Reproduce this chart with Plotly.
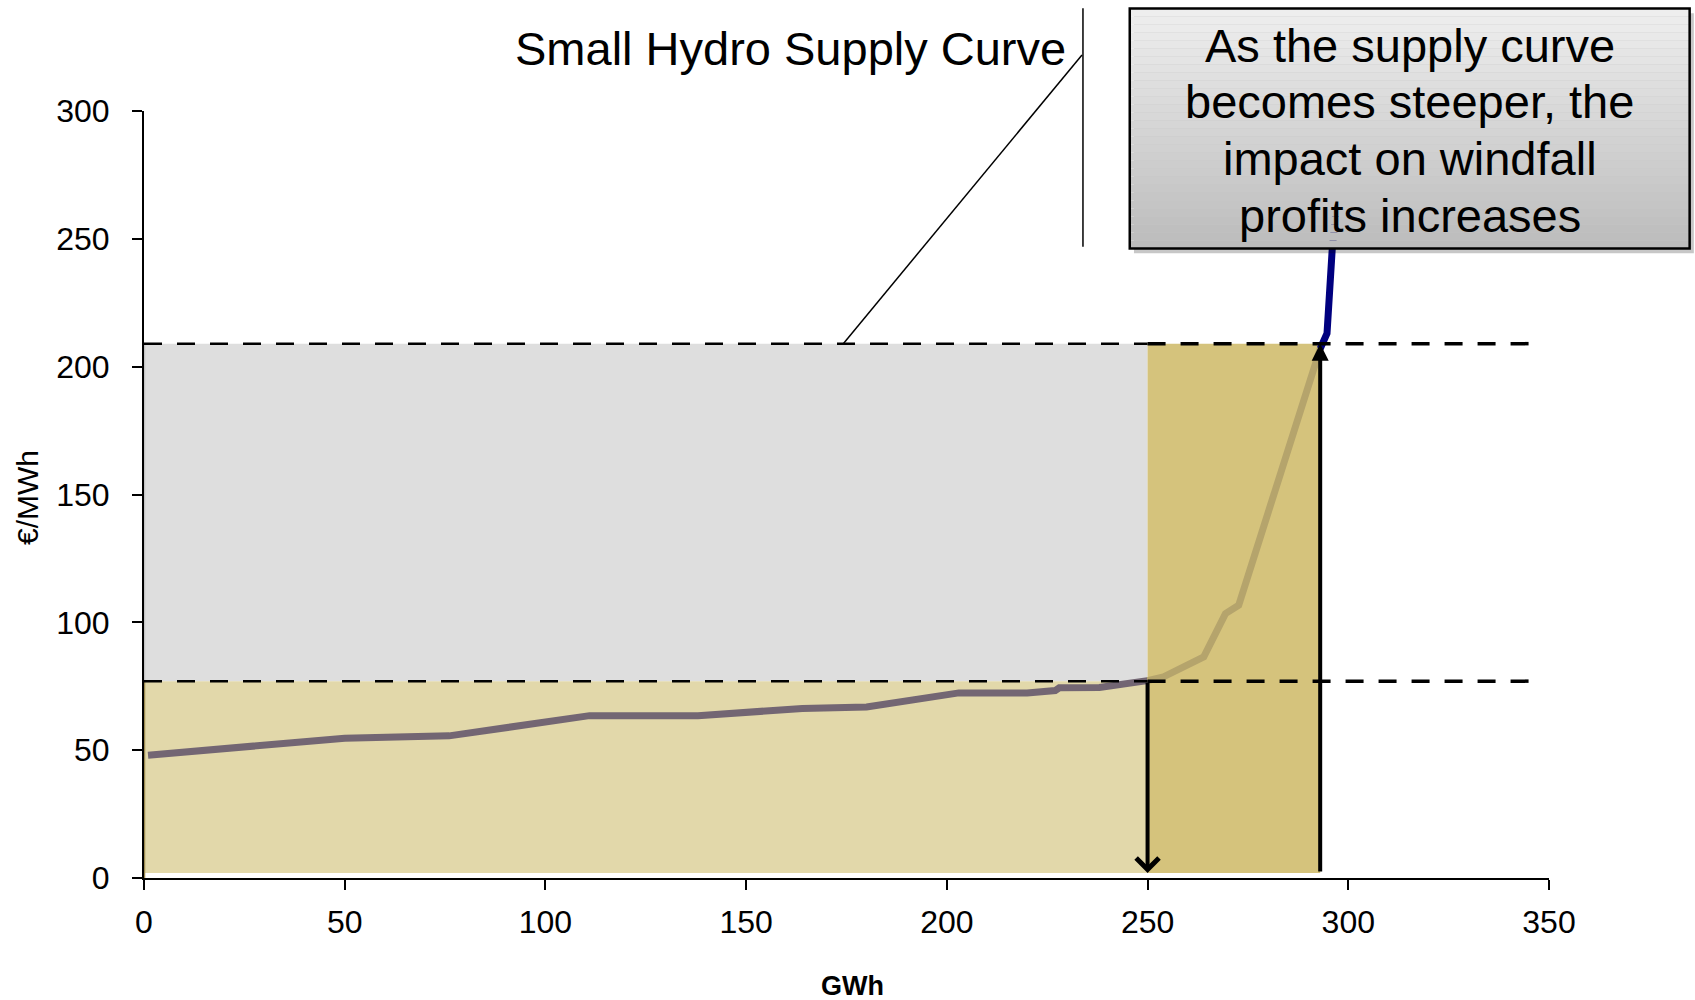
import plotly.graph_objects as go

# ---------------- data ----------------
supply_gwh = [1, 41, 50, 76, 99, 111, 138, 164, 180, 189, 203, 220, 227, 228, 238, 250,
              254, 264, 269.4, 272.7, 293, 294.7, 296, 297]
supply_price = [48, 53, 54.7, 55.6, 61, 63.5, 63.5, 66.3, 66.9, 68.8, 72.4, 72.4, 73.3, 74.4, 74.5, 77.2,
                78.7, 86.5, 103.4, 106.7, 207, 213, 246, 262]

q_low = 250        # GWh at low price
q_high = 293       # GWh at high price
p_low = 77         # €/MWh
p_high = 209       # €/MWh
dash_end = 345

x_ticks = [0, 50, 100, 150, 200, 250, 300, 350]
y_ticks = [0, 50, 100, 150, 200, 250, 300]

title_text = "Small Hydro Supply Curve"
box_lines = ["As the supply curve", "becomes steeper, the", "impact on windfall", "profits increases"]

X_MAX = 350
Y_MAX = 300
FONT = "Arial, Liberation Sans, sans-serif"


def px(v):
    return v / X_MAX


def py(v):
    return v / Y_MAX


# curve segments
seg1 = [(x, y) for x, y in zip(supply_gwh, supply_price) if x <= q_low]
seg2 = [(x, y) for x, y in zip(supply_gwh, supply_price) if q_low <= x <= q_high]
seg3 = [(x, y) for x, y in zip(supply_gwh, supply_price) if x >= q_high]

fig = go.Figure()
for seg, col in [(seg1, "#736673"), (seg2, "#b5a46c"), (seg3, "#00007f")]:
    fig.add_trace(go.Scatter(x=[p[0] for p in seg], y=[p[1] for p in seg], mode="lines",
                             line=dict(color=col, width=7), showlegend=False, hoverinfo="skip"))

shapes = []
# areas
shapes.append(dict(type="rect", xref="x", yref="y", x0=0, x1=q_low, y0=p_low, y1=p_high,
                   fillcolor="#dedede", line=dict(width=0), layer="below"))
shapes.append(dict(type="rect", xref="x", yref="y", x0=0, x1=q_low, y0=2, y1=p_low,
                   fillcolor="#e2d8aa", line=dict(width=0), layer="below"))
shapes.append(dict(type="rect", xref="x", yref="y", x0=q_low, x1=q_high, y0=2, y1=p_high,
                   fillcolor="#d5c37c", line=dict(width=0), layer="below"))
# left edges
shapes.append(dict(type="line", xref="x", yref="y", x0=0, x1=0, y0=p_low, y1=p_high,
                   line=dict(color="#c4c4c4", width=2.5), layer="above"))
shapes.append(dict(type="line", xref="x", yref="y", x0=0, x1=0, y0=0, y1=p_low,
                   line=dict(color="#9c8a50", width=2.5), layer="above"))
# dashed price lines
for p in (p_low, p_high):
    shapes.append(dict(type="line", xref="x", yref="y", x0=0, x1=q_low, y0=p, y1=p,
                       line=dict(color="black", width=2.5, dash="18px,15px"), layer="above"))
    shapes.append(dict(type="line", xref="x", yref="y", x0=q_low, x1=dash_end, y0=p, y1=p,
                       line=dict(color="black", width=3.5, dash="18px,15px"), layer="above"))

# callout lines for title
shapes.append(dict(type="line", xref="paper", yref="paper", x0=px(174.2), y0=py(p_high),
                   x1=0.6676, y1=1.0730, line=dict(color="black", width=1.5), layer="above"))
shapes.append(dict(type="line", xref="paper", yref="paper", x0=0.6683, y0=1.1339,
                   x1=0.6683, y1=0.8231, line=dict(color="black", width=1.5), layer="above"))

# callout box (shadow + gradient + border)
bx0, bx1, by0, by1 = 0.7016, 1.1001, 0.8206, 1.1335
shapes.append(dict(type="rect", xref="paper", yref="paper", x0=bx0 + 0.003, x1=bx1 + 0.003,
                   y0=by0 - 0.006, y1=by1 - 0.006, fillcolor="rgba(0,0,0,0.22)",
                   line=dict(width=0), layer="above"))
n = 30
top_c, bot_c = 238, 188
for i in range(n):
    t = i / (n - 1)
    c = int(round(top_c + (bot_c - top_c) * t))
    ya = by1 - (by1 - by0) * i / n
    yb = by1 - (by1 - by0) * (i + 1) / n
    shapes.append(dict(type="rect", xref="paper", yref="paper", x0=bx0, x1=bx1, y0=yb, y1=ya,
                       fillcolor=f"rgb({c},{c},{c})", line=dict(width=0), layer="above"))
shapes.append(dict(type="rect", xref="paper", yref="paper", x0=bx0, x1=bx1, y0=by0, y1=by1,
                   fillcolor="rgba(0,0,0,0)", line=dict(color="black", width=2.5), layer="above"))

annotations = []
# arrows
annotations.append(dict(x=q_low, y=2, ax=q_low, ay=p_low, xref="x", yref="y", axref="x", ayref="y",
                        text="", showarrow=True, arrowhead=4, arrowsize=1.1, arrowwidth=4,
                        arrowcolor="black", standoff=0))
annotations.append(dict(x=q_high, y=p_high, ax=q_high, ay=2, xref="x", yref="y", axref="x", ayref="y",
                        text="", showarrow=True, arrowhead=2, arrowsize=0.85, arrowwidth=4,
                        arrowcolor="black", standoff=0))
# title
annotations.append(dict(x=0.4598, y=1.0814, xref="paper", yref="paper", text=title_text,
                        showarrow=False, xanchor="center", yanchor="middle",
                        font=dict(family=FONT, size=47, color="black")))
# box text
for yy, line in zip([1.0855, 1.0123, 0.9375, 0.8643], box_lines):
    annotations.append(dict(x=0.9008, y=yy, xref="paper", yref="paper", text=line,
                            showarrow=False, xanchor="center", yanchor="middle",
                            font=dict(family=FONT, size=47, color="black")))
# axis titles
annotations.append(dict(x=-0.0833, y=0.4967, xref="paper", yref="paper", text="€/MWh",
                        showarrow=False, textangle=-90, xanchor="center", yanchor="middle",
                        font=dict(family=FONT, size=30, color="black")))
annotations.append(dict(x=0.5046, y=-0.1408, xref="paper", yref="paper", text="<b>GWh</b>",
                        showarrow=False, xanchor="center", yanchor="middle",
                        font=dict(family=FONT, size=27, color="black")))

fig.update_layout(
    width=1695, height=1000,
    margin=dict(l=144, r=146, t=111, b=122),
    paper_bgcolor="white", plot_bgcolor="white",
    shapes=shapes, annotations=annotations,
    showlegend=False,
    xaxis=dict(range=[0, X_MAX], tickvals=x_ticks, ticktext=[str(v) for v in x_ticks],
               showgrid=False, zeroline=False, showline=True, linecolor="black", linewidth=2,
               ticks="outside", ticklen=10, tickwidth=2, tickcolor="black", ticklabelstandoff=5,
               tickfont=dict(family=FONT, size=32, color="black")),
    yaxis=dict(range=[0, Y_MAX], tickvals=y_ticks, ticktext=[str(v) for v in y_ticks],
               showgrid=False, zeroline=False, showline=True, linecolor="black", linewidth=2,
               ticks="outside", ticklen=10, tickwidth=2, tickcolor="black", ticklabelstandoff=16,
               tickfont=dict(family=FONT, size=32, color="black")),
)

fig.write_html("out.html", config={"displayModeBar": False},
               post_script="document.body.style.margin='0';document.body.style.overflow='hidden';")
